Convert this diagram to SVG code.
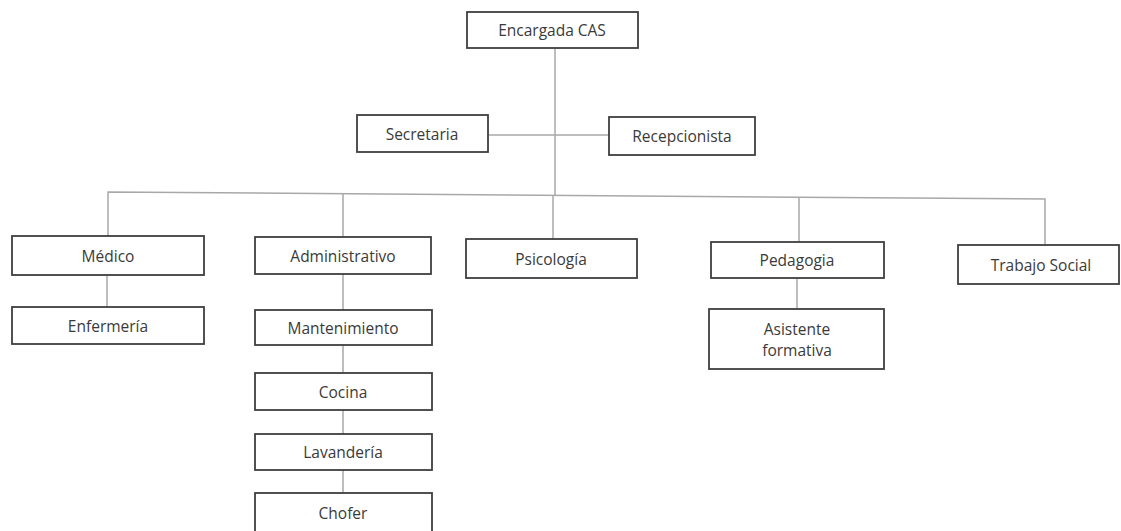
<svg xmlns="http://www.w3.org/2000/svg" width="1121" height="531" viewBox="0 0 1121 531">
<style>
.box{fill:#ffffff;stroke:#3f3f3f;stroke-width:1.8}
.lbl{font-family:"Open Sans","Liberation Sans",sans-serif;font-size:15.5px;fill:#3a3a3a;text-anchor:middle;dominant-baseline:central}
.ln{fill:none;stroke:#a8a8a8;stroke-width:1.5}
</style>
<rect width="1121" height="531" fill="#ffffff"/>
<g id="connectors">
<path class="ln" d="M555 48 V195"/>
<path class="ln" d="M488 135 H609"/>
<path class="ln" d="M108 236 V192 L1045 199 V245"/>
<path class="ln" d="M343 194 V237"/>
<path class="ln" d="M553 195 V239"/>
<path class="ln" d="M799 197 V242"/>
<path class="ln" d="M107 275 V307"/>
<path class="ln" d="M343 274 V310 M343 345 V373 M343 410 V434 M343 470 V493"/>
<path class="ln" d="M797 278 V309"/>
</g>
<g id="encargada"><rect class="box" x="467" y="12" width="171" height="36"/><text class="lbl" x="552" y="30">Encargada CAS</text></g>
<g id="secretaria"><rect class="box" x="357" y="115" width="131" height="37"/><text class="lbl" x="422" y="133.5">Secretaria</text></g>
<g id="recepcionista"><rect class="box" x="609" y="117" width="146" height="38"/><text class="lbl" x="682" y="136">Recepcionista</text></g>
<g id="medico"><rect class="box" x="12" y="236" width="192" height="39"/><text class="lbl" x="108" y="255.5">Médico</text></g>
<g id="administrativo"><rect class="box" x="255" y="237" width="176" height="37"/><text class="lbl" x="343" y="255.5">Administrativo</text></g>
<g id="psicologia"><rect class="box" x="466" y="239" width="171" height="39"/><text class="lbl" x="551" y="258.5">Psicología</text></g>
<g id="pedagogia"><rect class="box" x="711" y="242" width="173" height="36"/><text class="lbl" x="797" y="260">Pedagogia</text></g>
<g id="trabajo-social"><rect class="box" x="958" y="245" width="161" height="39"/><text class="lbl" x="1041" y="264.5">Trabajo Social</text></g>
<g id="enfermeria"><rect class="box" x="12" y="307" width="192" height="37"/><text class="lbl" x="108" y="325.5">Enfermería</text></g>
<g id="mantenimiento"><rect class="box" x="255" y="310" width="177" height="35"/><text class="lbl" x="343" y="327.5">Mantenimiento</text></g>
<g id="cocina"><rect class="box" x="255" y="373" width="177" height="37"/><text class="lbl" x="343" y="391.5">Cocina</text></g>
<g id="lavanderia"><rect class="box" x="255" y="434" width="177" height="36"/><text class="lbl" x="343" y="452">Lavandería</text></g>
<g id="chofer"><rect class="box" x="255" y="493" width="177" height="40"/><text class="lbl" x="343" y="513">Chofer</text></g>
<g id="asistente"><rect class="box" x="709" y="309" width="175" height="60"/><text class="lbl" x="797" y="329">Asistente</text><text class="lbl" x="797" y="350">formativa</text></g>
</svg>
